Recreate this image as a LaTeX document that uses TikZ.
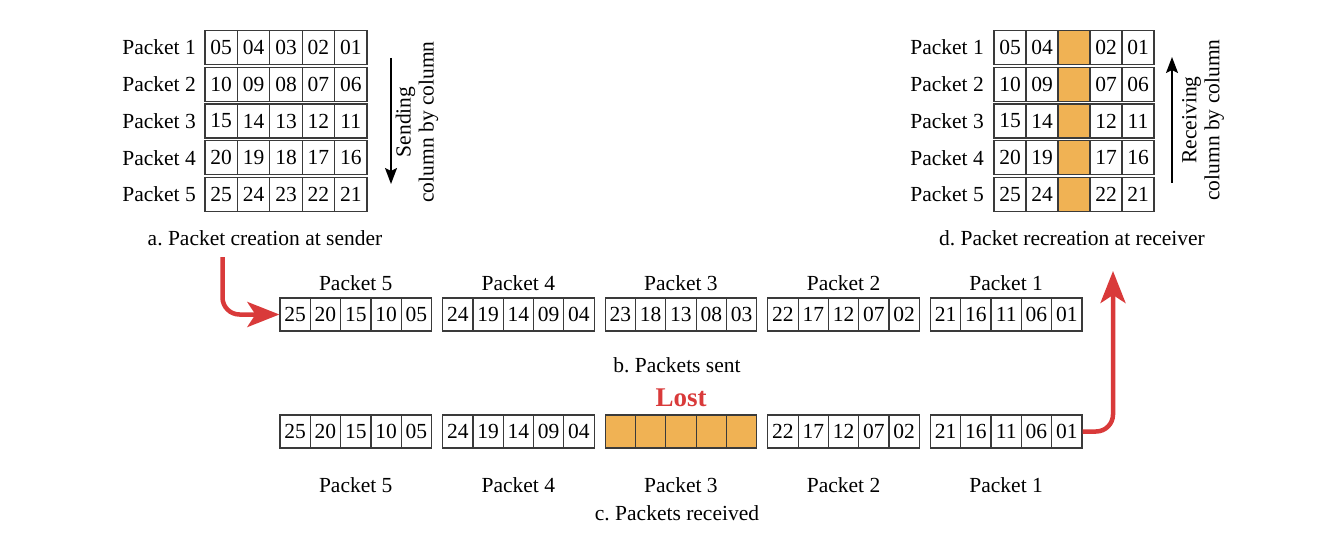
\documentclass[tikz,border=0pt]{standalone}
\usepackage{fontspec}
\setmainfont{Liberation Serif}
\usetikzlibrary{arrows.meta}
\definecolor{lostred}{HTML}{D93A3A}
\definecolor{lostfill}{HTML}{F0B254}
\definecolor{boxline}{HTML}{3A3A3A}
\newcommand{\twod}[1]{\ifnum#1<10 0\fi#1}
\frenchspacing
\begin{document}
\begin{tikzpicture}[x=1pt,y=-1pt,
  font=\fontsize{21.5}{23}\selectfont,
  mcell/.style={draw=boxline, line width=1.2pt, minimum width=32.4pt, minimum height=34pt, inner sep=0pt},
  scell/.style={draw=boxline, line width=1.2pt, minimum width=30.3pt, minimum height=33pt, inner sep=0pt},
  lost/.style={fill=lostfill},
  thinarrow/.style={draw=black, line width=1.6pt, -{Stealth[length=16pt,width=12pt,inset=3pt]}},
  redarrow/.style={draw=lostred, line width=4.5pt, rounded corners=17pt, -{Stealth[length=32pt,width=25pt,inset=8pt]}},
  vtext/.style={rotate=90, align=center},
  lostlabel/.style={text=lostred, font=\fontsize{27}{30}\selectfont\bfseries}
]
\useasboundingbox (0,0) rectangle (1322,540);

% a. sender matrix
\foreach \r in {1,...,5}{
  \pgfmathsetmacro\yy{47.5+(\r-1)*36.75}
  \node[anchor=east, inner sep=0pt] (la\r) at (196,\yy) {Packet \r};
  \foreach \c in {1,...,5}{
    \pgfmathtruncatemacro\vv{5*(\r-1)+6-\c}
    \pgfmathsetmacro\xx{205+(\c-0.5)*32.4}
    \node[mcell] (a\r\c) at (\xx,\yy) {\twod{\vv}};
  }
}
\coordinate (sTop) at (391,58);
\coordinate (sBot) at (391,184);
\draw[thinarrow] (sTop) -- (sBot);
\node[vtext] (sendtxt) at (417,122) {Sending\\column by column};
\node (capa) at (265,238) {a. Packet creation at sender};

% d. receiver matrix
\foreach \r in {1,...,5}{
  \pgfmathsetmacro\yy{47.5+(\r-1)*36.75}
  \node[anchor=east, inner sep=0pt] (ld\r) at (984,\yy) {Packet \r};
  \foreach \c in {1,...,5}{
    \pgfmathtruncatemacro\vv{5*(\r-1)+6-\c}
    \pgfmathsetmacro\xx{994+(\c-0.5)*32}
    \ifnum\c=3
      \node[mcell, minimum width=32pt, lost] (d\r\c) at (\xx,\yy) {};
    \else
      \node[mcell, minimum width=32pt] (d\r\c) at (\xx,\yy) {\twod{\vv}};
    \fi
  }
}
\coordinate (rBot) at (1172,183);
\coordinate (rTop) at (1172,57);
\draw[thinarrow] (rBot) -- (rTop);
\node[vtext] (recvtxt) at (1203,120) {Receiving\\column by column};
\node (capd) at (1072,238) {d. Packet recreation at receiver};

% b. packets sent / c. packets received
\foreach \k in {0,...,4}{
  \pgfmathtruncatemacro\p{5-\k}
  \pgfmathsetmacro\xo{280+\k*162.6}
  \pgfmathsetmacro\xm{\xo+75.75}
  \node (sl\p) at (\xm,283) {Packet \p};
  \node (rl\p) at (\xm,485) {Packet \p};
  \foreach \c in {1,...,5}{
    \pgfmathtruncatemacro\vv{5*(5-\c)+\p}
    \pgfmathsetmacro\xx{\xo+(\c-0.5)*30.3}
    \node[scell] (s\p\c) at (\xx,314.5) {\twod{\vv}};
    \ifnum\p=3
      \node[scell, lost] (r\p\c) at (\xx,431.5) {};
    \else
      \node[scell] (r\p\c) at (\xx,431.5) {\twod{\vv}};
    \fi
  }
}
\node (capb) at (677,365) {b. Packets sent};
\node[lostlabel] (lostlbl) at (681,398) {Lost};
\node (capc) at (677,513) {c. Packets received};

% red arrows
\coordinate (r1s) at (222.5,257);
\draw[redarrow] (r1s) |- (s51.west);
\coordinate (r2e) at (1113,271);
\draw[redarrow] (r15.east) -| (r2e);
\end{tikzpicture}
\end{document}
